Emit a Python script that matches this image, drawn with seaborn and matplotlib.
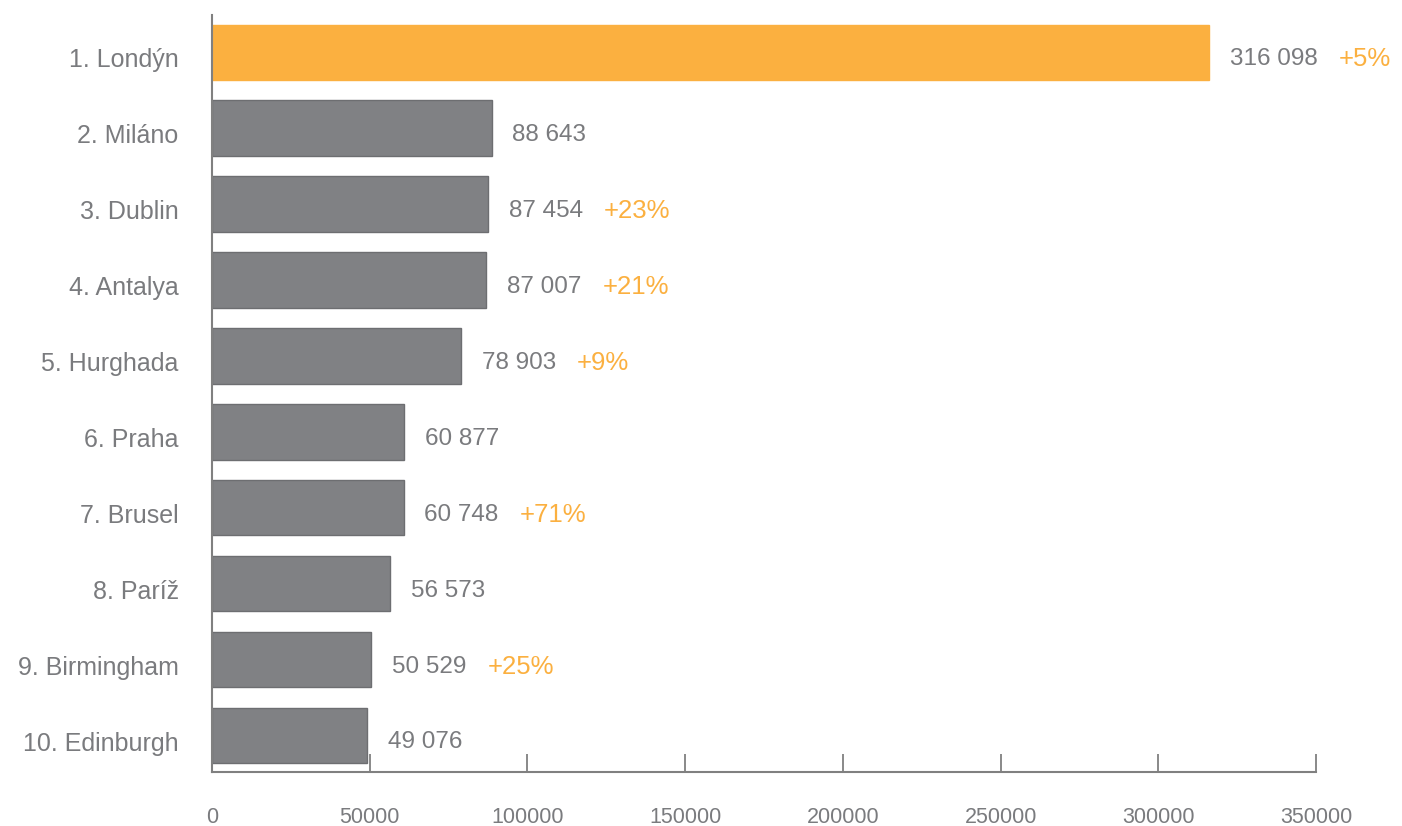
import matplotlib
matplotlib.use("Agg")
import matplotlib.pyplot as plt
import matplotlib.transforms as mtransforms
import seaborn as sns
import pandas as pd

cities = ["1. Londýn", "2. Miláno", "3. Dublin", "4. Antalya", "5. Hurghada",
          "6. Praha", "7. Brusel", "8. Paríž", "9. Birmingham", "10. Edinburgh"]
passengers = [316098, 88643, 87454, 87007, 78903, 60877, 60748, 56573, 50529, 49076]
changes = ["+5%", "", "+23%", "+21%", "+9%", "", "+71%", "", "+25%", ""]
x_ticks = [0, 50000, 100000, 150000, 200000, 250000, 300000, 350000]

ORANGE = "#FBB040"
GRAY = "#808184"
EDGE = "#6D6E71"
TEXT = "#7A7B7E"

sns.set_theme(style="white")
plt.rcParams["font.family"] = ["Liberation Sans", "DejaVu Sans"]

df = pd.DataFrame({"city": cities, "value": passengers})
colors = [ORANGE] + [GRAY] * (len(cities) - 1)

fig = plt.figure(figsize=(14.02, 8.26), dpi=100)
ax = fig.add_axes([0.1512, 0.0654, 0.7875, 0.9164])

sns.barplot(data=df, y="city", x="value", hue="city", palette=colors,
            order=cities, hue_order=cities, orient="h", width=0.73,
            legend=False, ax=ax, saturation=1)

for i, patch in enumerate(ax.patches):
    if i == 0:
        patch.set_edgecolor(ORANGE)
    else:
        patch.set_edgecolor(EDGE)
    patch.set_linewidth(1.0)

for i, (v, c) in enumerate(zip(passengers, changes)):
    lab = f"{v:,}".replace(",", " ")
    t = ax.annotate(lab, xy=(v, i), xytext=(15, -5), textcoords="offset points",
                    va="center", ha="left", fontsize=17.5, color=TEXT)
    if c:
        ax.annotate(c, xy=(1, 0.5), xycoords=t, xytext=(15, 0),
                    textcoords="offset points", va="center", ha="left",
                    fontsize=18.5, color=ORANGE)

ax.set_xlim(0, 350000)
ax.set_ylim(9.48, -0.49)
ax.set_xticks(x_ticks)
ax.set_xticklabels([str(t) for t in x_ticks])
ax.set_xlabel("")
ax.set_ylabel("")

for s in ["top", "right"]:
    ax.spines[s].set_visible(False)
for s in ["left", "bottom"]:
    ax.spines[s].set_color("#808080")
    ax.spines[s].set_linewidth(1.5)

ax.tick_params(axis="x", bottom=True, direction="in", length=13, width=1.3,
               color="#808080", pad=25, labelsize=15.5, labelcolor=TEXT)
ax.tick_params(axis="y", left=False, length=0, pad=24, labelsize=18,
               labelcolor=TEXT)
shift = mtransforms.ScaledTranslation(0, -4 / 72, fig.dpi_scale_trans)
for lbl in ax.get_yticklabels():
    lbl.set_transform(lbl.get_transform() + shift)

fig.savefig("out.png", dpi=100)
